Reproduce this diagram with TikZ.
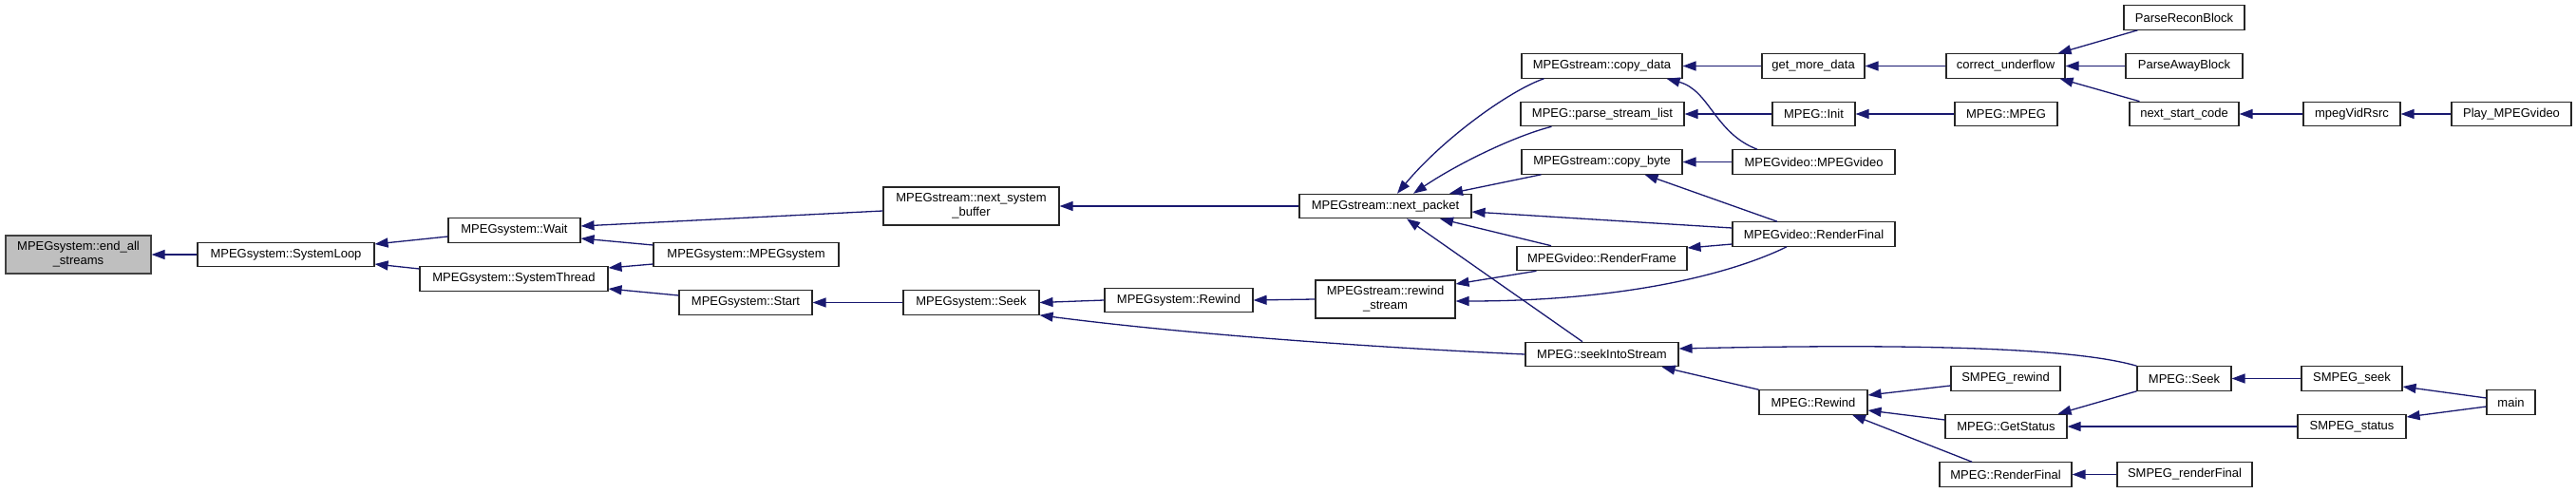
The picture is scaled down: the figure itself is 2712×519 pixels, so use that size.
\documentclass[tikz,border=0pt]{standalone}
\usepackage{fontspec}
\setmainfont{Liberation Sans}
\usetikzlibrary{arrows.meta}
\definecolor{edgeblue}{HTML}{191970}
\definecolor{rootgray}{HTML}{BFBFBF}
\begin{document}
\begin{tikzpicture}[
    x=1pt, y=-1pt,
    every node/.style={draw=black!85, line width=1.1pt, rectangle, inner sep=0pt,
      minimum height=25.5pt, align=center, font=\fontsize{13}{15}\selectfont},
    two/.style={minimum height=40pt},
    root/.style={fill=rootgray, draw=black!75},
    >={Triangle[length=14pt,width=10pt]},
    call/.style={->, draw=edgeblue, line width=1.3pt}
  ]
  \useasboundingbox (0,0) rectangle (2712,519);
  % column 1 to 4
  \node[root, two, minimum width=153pt] (endall) at (82.5,268) {MPEGsystem::end\_all\\\_streams};
  \node[minimum width=186pt] (sysloop) at (301,268) {MPEGsystem::SystemLoop};
  \node[minimum width=139pt] (wait) at (541.5,242.5) {MPEGsystem::Wait};
  \node[minimum width=198pt] (systhread) at (541,293.5) {MPEGsystem::SystemThread};
  \node[minimum width=195pt] (sysctor) at (785.5,268) {MPEGsystem::MPEGsystem};
  \node[minimum width=140pt] (start) at (785,318.5) {MPEGsystem::Start};
  \node[two, minimum width=185pt] (nsbuf) at (1022.5,217) {MPEGstream::next\_system\\\_buffer};
  \node[minimum width=143pt] (sysseek) at (1022.5,318.5) {MPEGsystem::Seek};
  \node[minimum width=156pt] (sysrewind) at (1241,316) {MPEGsystem::Rewind};
  % column 5 and 6
  \node[minimum width=181pt] (npacket) at (1458.5,217) {MPEGstream::next\_packet};
  \node[two, minimum width=147pt] (rwstream) at (1458.5,315) {MPEGstream::rewind\\\_stream};
  \node[minimum width=169pt] (copydata) at (1686.5,69.5) {MPEGstream::copy\_data};
  \node[minimum width=172pt] (parselist) at (1687,120) {MPEG::parse\_stream\_list};
  \node[minimum width=169pt] (copybyte) at (1686.5,170.5) {MPEGstream::copy\_byte};
  \node[minimum width=179pt] (renderframe) at (1686.5,272) {MPEGvideo::RenderFrame};
  \node[minimum width=161pt] (seekinto) at (1686.5,373) {MPEG::seekIntoStream};
  % column 7
  \node[minimum width=108pt] (moredata) at (1909,69.5) {get\_more\_data};
  \node[minimum width=87pt] (init) at (1909.5,120) {MPEG::Init};
  \node[minimum width=171pt] (vidctor) at (1909.5,170.5) {MPEGvideo::MPEGvideo};
  \node[minimum width=171pt] (vidfinal) at (1909.5,246.5) {MPEGvideo::RenderFinal};
  \node[minimum width=114pt] (mrewind) at (1909,423.5) {MPEG::Rewind};
  % column 8
  \node[minimum width=125pt] (underflow) at (2111.5,69.5) {correct\_underflow};
  \node[minimum width=108pt] (mctor) at (2112,120) {MPEG::MPEG};
  \node[minimum width=115pt] (smrewind) at (2111.5,398.5) {SMPEG\_rewind};
  \node[minimum width=128pt] (getstatus) at (2112,449) {MPEG::GetStatus};
  \node[minimum width=139pt] (mfinal) at (2111.5,499.5) {MPEG::RenderFinal};
  % column 9
  \node[minimum width=127pt] (recon) at (2299.5,18.5) {ParseReconBlock};
  \node[minimum width=123pt] (away) at (2299.5,69.5) {ParseAwayBlock};
  \node[minimum width=115pt] (startcode) at (2299.5,120) {next\_start\_code};
  \node[minimum width=99pt] (mseek) at (2299.5,398.5) {MPEG::Seek};
  \node[minimum width=142pt] (smfinal) at (2300,499.5) {SMPEG\_renderFinal};
  % column 10 and 11
  \node[minimum width=102pt] (vidrsrc) at (2476,120) {mpegVidRsrc};
  \node[minimum width=106pt] (smseek) at (2476,398.5) {SMPEG\_seek};
  \node[minimum width=114pt] (smstatus) at (2476,449) {SMPEG\_status};
  \node[minimum width=126pt] (playvid) at (2644,120) {Play\_MPEGvideo};
  \node[minimum width=51pt] (main) at (2643.5,423.5) {main};

  % calls, drawn from caller to callee
  \draw[call] (sysloop.west) -- (endall.east);
  \draw[call] ([yshift=-6.5pt]wait.west) -- ([yshift=11pt]sysloop.east);
  \draw[call] ([yshift=10.5pt]systhread.west) -- ([yshift=-10pt]sysloop.east);
  \draw[call] ([yshift=-5pt]nsbuf.west) -- ([yshift=4.5pt]wait.east);
  \draw[call] ([yshift=10pt]sysctor.west) -- ([yshift=-8.5pt]wait.east);
  \draw[call] ([yshift=-10pt]sysctor.west) -- ([yshift=11.5pt]systhread.east);
  \draw[call] ([yshift=7.5pt]start.west) -- ([yshift=-10.5pt]systhread.east);
  \draw[call] (sysseek.west) -- (start.east);
  \draw[call] (npacket.west) -- (nsbuf.east);
  \draw[call] (sysrewind.west) -- (sysseek.east);
  \draw[call] (seekinto.west) .. controls (1450,366) and (1250,352) .. (sysseek.south east);
  \draw[call] (rwstream.west) -- (sysrewind.east);
  \draw[call] ([xshift=24pt]copydata.south west) .. controls (1590,95) and (1520,145) .. ([xshift=12.5pt]npacket.north);
  \draw[call] ([xshift=33pt]parselist.south west) .. controls (1595,143) and (1535,172) .. ([xshift=29.5pt]npacket.north);
  \draw[call] ([xshift=21pt]copybyte.south west) -- ([xshift=67.5pt]npacket.north);
  \draw[call] ([yshift=6.5pt]vidfinal.west) -- ([yshift=-6pt]npacket.east);
  \draw[call] ([xshift=-53.5pt]renderframe.north) -- ([xshift=57.5pt]npacket.south);
  \draw[call] ([xshift=-20.5pt]seekinto.north) -- ([xshift=22.5pt]npacket.south);
  \draw[call] ([xshift=21pt]renderframe.south west) -- ([yshift=16pt]rwstream.east);
  \draw[call] ([xshift=-28.5pt]vidfinal.south) .. controls (1830,285) and (1720,317) .. ([yshift=-2pt]rwstream.east);
  \draw[call] (moredata.west) -- (copydata.east);
  \draw[call] ([xshift=-59.5pt]vidctor.north) .. controls (1805,140) and (1800,95) .. ([xshift=-17pt]copydata.south east);
  \draw[call] (init.west) -- (parselist.east);
  \draw[call] (vidctor.west) -- (copybyte.east);
  \draw[call] ([xshift=-38.5pt]vidfinal.north) -- ([xshift=-40pt]copybyte.south east);
  \draw[call] ([yshift=-10.5pt]vidfinal.west) -- ([yshift=11pt]renderframe.east);
  \draw[call] (mseek.north west) .. controls (2180,365) and (2000,362) .. ([yshift=6pt]seekinto.east);
  \draw[call] (mrewind.north west) -- ([xshift=-18pt]seekinto.south east);
  \draw[call] (underflow.west) -- (moredata.east);
  \draw[call] (mctor.west) -- (init.east);
  \draw[call] ([xshift=15pt]recon.south west) -- ([xshift=-8pt]underflow.north east);
  \draw[call] (away.west) -- (underflow.east);
  \draw[call] ([xshift=11pt]startcode.north west) -- ([xshift=-6pt]underflow.south east);
  \draw[call] (vidrsrc.west) -- (startcode.east);
  \draw[call] (playvid.west) -- (vidrsrc.east);
  \draw[call] ([yshift=-7.5pt]smrewind.west) -- ([yshift=7.5pt]mrewind.east);
  \draw[call] ([yshift=7pt]getstatus.west) -- ([yshift=-8.5pt]mrewind.east);
  \draw[call] ([xshift=-35.5pt]mfinal.north) -- ([xshift=41pt]mrewind.south);
  \draw[call] (mseek.south west) -- ([xshift=-10pt]getstatus.north east);
  \draw[call] (smstatus.west) -- (getstatus.east);
  \draw[call] (smseek.west) -- (mseek.east);
  \draw[call] (smfinal.west) -- (mfinal.east);
  \draw[call] ([yshift=4.5pt]main.west) -- ([yshift=-8.5pt]smseek.east);
  \draw[call] ([yshift=-4.5pt]main.west) -- ([yshift=10pt]smstatus.east);
\end{tikzpicture}
\end{document}
